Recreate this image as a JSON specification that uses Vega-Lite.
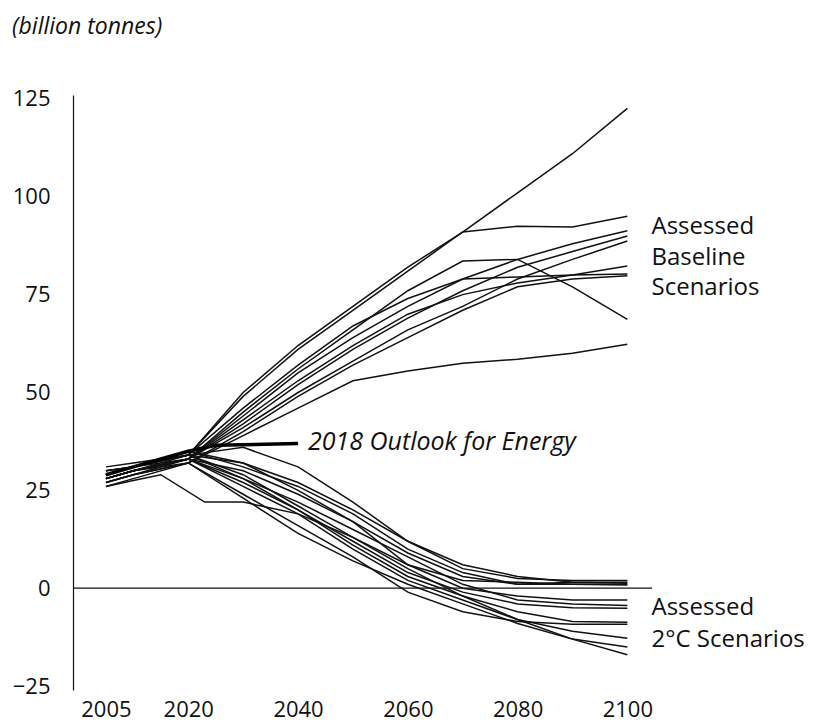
{
  "$schema": "https://vega.github.io/schema/vega-lite/v6.json",
  "autosize": {"type": "none"},
  "padding": {"left": 73, "top": 95, "right": 10, "bottom": 32},
  "width": 730,
  "height": 595,
  "background": "white",
  "config": {
    "font": "Open Sans",
    "view": {"stroke": null},
    "axis": {"grid": false, "ticks": false, "labelColor": "#111", "labelFontSize": 22, "labelFont": "Open Sans", "title": null}
  },
  "title": {
    "text": "(billion tonnes)",
    "anchor": "start",
    "frame": "group",
    "orient": "top",
    "fontSize": 23,
    "fontStyle": "italic",
    "fontWeight": "normal",
    "color": "#111",
    "baseline": "alphabetic",
    "dx": -61,
    "offset": 31
  },
  "datasets": {
    "scenarios": [
      {"s": "B1", "t": 2005, "v": 30}, {"s": "B1", "t": 2010, "v": 31}, {"s": "B1", "t": 2020, "v": 34}, {"s": "B1", "t": 2030, "v": 50}, {"s": "B1", "t": 2040, "v": 62}, {"s": "B1", "t": 2050, "v": 72}, {"s": "B1", "t": 2060, "v": 82}, {"s": "B1", "t": 2070, "v": 91}, {"s": "B1", "t": 2080, "v": 101}, {"s": "B1", "t": 2090, "v": 111}, {"s": "B1", "t": 2100, "v": 122.6},
      {"s": "B2", "t": 2005, "v": 29}, {"s": "B2", "t": 2010, "v": 31}, {"s": "B2", "t": 2020, "v": 34}, {"s": "B2", "t": 2030, "v": 49}, {"s": "B2", "t": 2040, "v": 61}, {"s": "B2", "t": 2050, "v": 71}, {"s": "B2", "t": 2060, "v": 81}, {"s": "B2", "t": 2070, "v": 91}, {"s": "B2", "t": 2080, "v": 92.5}, {"s": "B2", "t": 2090, "v": 92.3}, {"s": "B2", "t": 2100, "v": 95},
      {"s": "B3", "t": 2005, "v": 28}, {"s": "B3", "t": 2010, "v": 30}, {"s": "B3", "t": 2020, "v": 33}, {"s": "B3", "t": 2030, "v": 45}, {"s": "B3", "t": 2040, "v": 56}, {"s": "B3", "t": 2050, "v": 66}, {"s": "B3", "t": 2060, "v": 76}, {"s": "B3", "t": 2070, "v": 83.6}, {"s": "B3", "t": 2080, "v": 84}, {"s": "B3", "t": 2090, "v": 77}, {"s": "B3", "t": 2100, "v": 68.7},
      {"s": "B4", "t": 2005, "v": 30}, {"s": "B4", "t": 2010, "v": 31}, {"s": "B4", "t": 2020, "v": 33}, {"s": "B4", "t": 2030, "v": 44}, {"s": "B4", "t": 2040, "v": 55}, {"s": "B4", "t": 2050, "v": 64}, {"s": "B4", "t": 2060, "v": 72}, {"s": "B4", "t": 2070, "v": 79}, {"s": "B4", "t": 2080, "v": 84}, {"s": "B4", "t": 2090, "v": 88}, {"s": "B4", "t": 2100, "v": 91.3},
      {"s": "B5", "t": 2005, "v": 27}, {"s": "B5", "t": 2010, "v": 29}, {"s": "B5", "t": 2020, "v": 33}, {"s": "B5", "t": 2030, "v": 42}, {"s": "B5", "t": 2040, "v": 52}, {"s": "B5", "t": 2050, "v": 61}, {"s": "B5", "t": 2060, "v": 69}, {"s": "B5", "t": 2070, "v": 76}, {"s": "B5", "t": 2080, "v": 82}, {"s": "B5", "t": 2090, "v": 86}, {"s": "B5", "t": 2100, "v": 90},
      {"s": "B6", "t": 2005, "v": 29}, {"s": "B6", "t": 2010, "v": 31}, {"s": "B6", "t": 2020, "v": 34}, {"s": "B6", "t": 2030, "v": 46}, {"s": "B6", "t": 2040, "v": 57}, {"s": "B6", "t": 2050, "v": 67}, {"s": "B6", "t": 2060, "v": 74}, {"s": "B6", "t": 2070, "v": 79}, {"s": "B6", "t": 2080, "v": 79.5}, {"s": "B6", "t": 2090, "v": 80}, {"s": "B6", "t": 2100, "v": 80.3},
      {"s": "B7", "t": 2005, "v": 28}, {"s": "B7", "t": 2010, "v": 30}, {"s": "B7", "t": 2020, "v": 33}, {"s": "B7", "t": 2030, "v": 41}, {"s": "B7", "t": 2040, "v": 50}, {"s": "B7", "t": 2050, "v": 58}, {"s": "B7", "t": 2060, "v": 66}, {"s": "B7", "t": 2070, "v": 72}, {"s": "B7", "t": 2080, "v": 79}, {"s": "B7", "t": 2090, "v": 84}, {"s": "B7", "t": 2100, "v": 88.7},
      {"s": "B8", "t": 2005, "v": 28}, {"s": "B8", "t": 2010, "v": 30}, {"s": "B8", "t": 2020, "v": 33}, {"s": "B8", "t": 2030, "v": 43}, {"s": "B8", "t": 2040, "v": 53}, {"s": "B8", "t": 2050, "v": 62}, {"s": "B8", "t": 2060, "v": 70}, {"s": "B8", "t": 2070, "v": 75}, {"s": "B8", "t": 2080, "v": 78}, {"s": "B8", "t": 2090, "v": 80}, {"s": "B8", "t": 2100, "v": 82.3},
      {"s": "B9", "t": 2005, "v": 28}, {"s": "B9", "t": 2010, "v": 30}, {"s": "B9", "t": 2020, "v": 32}, {"s": "B9", "t": 2030, "v": 40}, {"s": "B9", "t": 2040, "v": 49}, {"s": "B9", "t": 2050, "v": 57}, {"s": "B9", "t": 2060, "v": 64}, {"s": "B9", "t": 2070, "v": 71}, {"s": "B9", "t": 2080, "v": 77}, {"s": "B9", "t": 2090, "v": 79}, {"s": "B9", "t": 2100, "v": 79.8},
      {"s": "B10", "t": 2005, "v": 27}, {"s": "B10", "t": 2010, "v": 29}, {"s": "B10", "t": 2020, "v": 32}, {"s": "B10", "t": 2030, "v": 39}, {"s": "B10", "t": 2040, "v": 46}, {"s": "B10", "t": 2050, "v": 53}, {"s": "B10", "t": 2060, "v": 55.5}, {"s": "B10", "t": 2070, "v": 57.5}, {"s": "B10", "t": 2080, "v": 58.5}, {"s": "B10", "t": 2090, "v": 60}, {"s": "B10", "t": 2100, "v": 62.3},
      {"s": "C1", "t": 2005, "v": 28}, {"s": "C1", "t": 2010, "v": 30}, {"s": "C1", "t": 2020, "v": 34}, {"s": "C1", "t": 2030, "v": 36}, {"s": "C1", "t": 2040, "v": 31}, {"s": "C1", "t": 2050, "v": 22}, {"s": "C1", "t": 2060, "v": 12}, {"s": "C1", "t": 2070, "v": 5}, {"s": "C1", "t": 2080, "v": 2.5}, {"s": "C1", "t": 2090, "v": 2}, {"s": "C1", "t": 2100, "v": 2},
      {"s": "C2", "t": 2005, "v": 29}, {"s": "C2", "t": 2010, "v": 31}, {"s": "C2", "t": 2020, "v": 35}, {"s": "C2", "t": 2030, "v": 32}, {"s": "C2", "t": 2040, "v": 27}, {"s": "C2", "t": 2050, "v": 20}, {"s": "C2", "t": 2060, "v": 12}, {"s": "C2", "t": 2070, "v": 6}, {"s": "C2", "t": 2080, "v": 3}, {"s": "C2", "t": 2090, "v": 1.5}, {"s": "C2", "t": 2100, "v": 1.3},
      {"s": "C3", "t": 2005, "v": 28}, {"s": "C3", "t": 2010, "v": 30}, {"s": "C3", "t": 2020, "v": 33}, {"s": "C3", "t": 2030, "v": 30}, {"s": "C3", "t": 2040, "v": 24}, {"s": "C3", "t": 2050, "v": 17}, {"s": "C3", "t": 2060, "v": 9}, {"s": "C3", "t": 2070, "v": 3}, {"s": "C3", "t": 2080, "v": 1}, {"s": "C3", "t": 2090, "v": 1}, {"s": "C3", "t": 2100, "v": 0.8},
      {"s": "C4", "t": 2005, "v": 26}, {"s": "C4", "t": 2010, "v": 27.5}, {"s": "C4", "t": 2015, "v": 29}, {"s": "C4", "t": 2023, "v": 22}, {"s": "C4", "t": 2030, "v": 22}, {"s": "C4", "t": 2040, "v": 19}, {"s": "C4", "t": 2050, "v": 13}, {"s": "C4", "t": 2060, "v": 6}, {"s": "C4", "t": 2070, "v": 0}, {"s": "C4", "t": 2080, "v": -2}, {"s": "C4", "t": 2090, "v": -3}, {"s": "C4", "t": 2100, "v": -3},
      {"s": "C5", "t": 2005, "v": 29}, {"s": "C5", "t": 2010, "v": 31}, {"s": "C5", "t": 2020, "v": 34}, {"s": "C5", "t": 2030, "v": 28}, {"s": "C5", "t": 2040, "v": 22}, {"s": "C5", "t": 2050, "v": 15}, {"s": "C5", "t": 2060, "v": 8}, {"s": "C5", "t": 2070, "v": 1}, {"s": "C5", "t": 2080, "v": -3}, {"s": "C5", "t": 2090, "v": -4}, {"s": "C5", "t": 2100, "v": -4.4},
      {"s": "C6", "t": 2005, "v": 28}, {"s": "C6", "t": 2010, "v": 30}, {"s": "C6", "t": 2020, "v": 33}, {"s": "C6", "t": 2030, "v": 27}, {"s": "C6", "t": 2040, "v": 20}, {"s": "C6", "t": 2050, "v": 12}, {"s": "C6", "t": 2060, "v": 4}, {"s": "C6", "t": 2070, "v": -1}, {"s": "C6", "t": 2080, "v": -4}, {"s": "C6", "t": 2090, "v": -5}, {"s": "C6", "t": 2100, "v": -5.1},
      {"s": "C7", "t": 2005, "v": 27}, {"s": "C7", "t": 2010, "v": 29}, {"s": "C7", "t": 2020, "v": 32}, {"s": "C7", "t": 2030, "v": 24}, {"s": "C7", "t": 2040, "v": 16}, {"s": "C7", "t": 2050, "v": 8}, {"s": "C7", "t": 2060, "v": -1}, {"s": "C7", "t": 2070, "v": -6}, {"s": "C7", "t": 2080, "v": -8.5}, {"s": "C7", "t": 2090, "v": -9.2}, {"s": "C7", "t": 2100, "v": -9.2},
      {"s": "C8", "t": 2005, "v": 30}, {"s": "C8", "t": 2010, "v": 31}, {"s": "C8", "t": 2020, "v": 34}, {"s": "C8", "t": 2030, "v": 29}, {"s": "C8", "t": 2040, "v": 21}, {"s": "C8", "t": 2050, "v": 13}, {"s": "C8", "t": 2060, "v": 5}, {"s": "C8", "t": 2070, "v": -2}, {"s": "C8", "t": 2080, "v": -6}, {"s": "C8", "t": 2090, "v": -8.5}, {"s": "C8", "t": 2100, "v": -8.7},
      {"s": "C9", "t": 2005, "v": 28}, {"s": "C9", "t": 2010, "v": 30}, {"s": "C9", "t": 2020, "v": 33}, {"s": "C9", "t": 2030, "v": 26}, {"s": "C9", "t": 2040, "v": 19}, {"s": "C9", "t": 2050, "v": 10}, {"s": "C9", "t": 2060, "v": 2}, {"s": "C9", "t": 2070, "v": -3}, {"s": "C9", "t": 2080, "v": -8}, {"s": "C9", "t": 2090, "v": -11}, {"s": "C9", "t": 2100, "v": -12.8},
      {"s": "C10", "t": 2005, "v": 26}, {"s": "C10", "t": 2010, "v": 28}, {"s": "C10", "t": 2020, "v": 32}, {"s": "C10", "t": 2030, "v": 23}, {"s": "C10", "t": 2040, "v": 14}, {"s": "C10", "t": 2050, "v": 7}, {"s": "C10", "t": 2060, "v": 1}, {"s": "C10", "t": 2070, "v": -4}, {"s": "C10", "t": 2080, "v": -9}, {"s": "C10", "t": 2090, "v": -13}, {"s": "C10", "t": 2100, "v": -15},
      {"s": "C11", "t": 2005, "v": 28}, {"s": "C11", "t": 2010, "v": 30}, {"s": "C11", "t": 2020, "v": 33}, {"s": "C11", "t": 2030, "v": 28}, {"s": "C11", "t": 2040, "v": 20}, {"s": "C11", "t": 2050, "v": 11}, {"s": "C11", "t": 2060, "v": 3}, {"s": "C11", "t": 2070, "v": -2}, {"s": "C11", "t": 2080, "v": -8}, {"s": "C11", "t": 2090, "v": -13}, {"s": "C11", "t": 2100, "v": -17},
      {"s": "C12", "t": 2005, "v": 29}, {"s": "C12", "t": 2010, "v": 31}, {"s": "C12", "t": 2020, "v": 35}, {"s": "C12", "t": 2030, "v": 31}, {"s": "C12", "t": 2040, "v": 26}, {"s": "C12", "t": 2050, "v": 19}, {"s": "C12", "t": 2060, "v": 10}, {"s": "C12", "t": 2070, "v": 4}, {"s": "C12", "t": 2080, "v": 1}, {"s": "C12", "t": 2090, "v": 1.5}, {"s": "C12", "t": 2100, "v": 1.5},
      {"s": "C13", "t": 2005, "v": 31}, {"s": "C13", "t": 2010, "v": 32}, {"s": "C13", "t": 2020, "v": 34}, {"s": "C13", "t": 2030, "v": 32}, {"s": "C13", "t": 2040, "v": 25}, {"s": "C13", "t": 2050, "v": 17}, {"s": "C13", "t": 2060, "v": 6}, {"s": "C13", "t": 2070, "v": 2}, {"s": "C13", "t": 2080, "v": 1.5}, {"s": "C13", "t": 2090, "v": 1}, {"s": "C13", "t": 2100, "v": 1}
    ],
    "outlook": [
      {"t": 2005, "v": 29}, {"t": 2010, "v": 31}, {"t": 2015, "v": 33}, {"t": 2020, "v": 35}, {"t": 2025, "v": 36.5}, {"t": 2040, "v": 37}
    ],
    "zero": [
      {"t0": 1999, "t1": 2104.5, "v": 0}
    ],
    "notes": [
      {"t": 2104.4, "v": 92.2, "txt": "Assessed"},
      {"t": 2104.4, "v": 84.4, "txt": "Baseline"},
      {"t": 2104.4, "v": 76.6, "txt": "Scenarios"},
      {"t": 2104.4, "v": -5.0, "txt": "Assessed"},
      {"t": 2104.4, "v": -13.2, "txt": "2°C Scenarios"}
    ],
    "outlookNote": [
      {"t": 2041.8, "v": 37.3, "txt": "2018 Outlook for Energy"}
    ]
  },
  "layer": [
    {
      "data": {"name": "zero"},
      "mark": {"type": "rule", "color": "#111", "strokeWidth": 1.2},
      "encoding": {
        "x": {"field": "t0", "type": "quantitative", "scale": {"domain": [1999, 2132], "nice": false, "zero": false},
          "axis": {"values": [2005, 2020, 2040, 2060, 2080, 2100], "format": "d", "domain": false, "labelPadding": 9}},
        "x2": {"field": "t1"},
        "y": {"field": "v", "type": "quantitative", "scale": {"domain": [-26, 126], "nice": false, "zero": false},
          "axis": {"values": [-25, 0, 25, 50, 75, 100, 125], "domain": true, "domainColor": "#111", "domainWidth": 1.2, "labelPadding": 23}}
      }
    },
    {
      "data": {"name": "scenarios"},
      "mark": {"type": "line", "color": "#111", "strokeWidth": 1.5},
      "encoding": {
        "x": {"field": "t", "type": "quantitative"},
        "y": {"field": "v", "type": "quantitative"},
        "detail": {"field": "s"}
      }
    },
    {
      "data": {"name": "outlook"},
      "mark": {"type": "line", "color": "#000", "strokeWidth": 3.5},
      "encoding": {
        "x": {"field": "t", "type": "quantitative"},
        "y": {"field": "v", "type": "quantitative"}
      }
    },
    {
      "data": {"name": "notes"},
      "mark": {"type": "text", "align": "left", "baseline": "middle", "fontSize": 24, "color": "#111", "font": "Open Sans", "clip": false},
      "encoding": {
        "x": {"field": "t", "type": "quantitative"},
        "y": {"field": "v", "type": "quantitative"},
        "text": {"field": "txt"}
      }
    },
    {
      "data": {"name": "outlookNote"},
      "mark": {"type": "text", "align": "left", "baseline": "middle", "fontSize": 25, "fontStyle": "italic", "color": "#111", "font": "Open Sans"},
      "encoding": {
        "x": {"field": "t", "type": "quantitative"},
        "y": {"field": "v", "type": "quantitative"},
        "text": {"field": "txt"}
      }
    }
  ]
}
